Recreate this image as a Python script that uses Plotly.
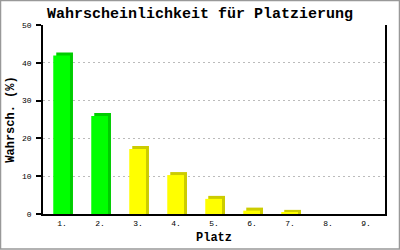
import plotly.graph_objects as go

places = ["1.", "2.", "3.", "4.", "5.", "6.", "7.", "8.", "9."]
probabilities = [41.9, 25.9, 17.2, 10.3, 4.0, 0.9, 0.3, 0.0, 0.0]
front_colors = ["#00FF00", "#00FF00", "#FFFF00", "#FFFF00", "#FFFF00", "#FFFF00", "#FFFF00", "#FFFF00", "#FFFF00"]
side_colors = ["#00CC00", "#00CC00", "#CCCC00", "#CCCC00", "#CCCC00", "#CCCC00", "#CCCC00", "#CCCC00", "#CCCC00"]
y_ticks = [0, 10, 20, 30, 40, 50]

W, H = 400, 250
ML, MR, MT, MB = 43, 15, 25, 36
plot_w = W - ML - MR
plot_h = H - MT - MB
ymax = 50
px_x = plot_w / len(places)   # pixels per category
px_y = plot_h / ymax          # pixels per unit
depth = 3                     # 3D depth in pixels
bar_w = 0.44
bar_off = -0.23

shadow_vals = [v + depth / px_y if v > 0 else 0 for v in probabilities]

fig = go.Figure()
fig.add_trace(go.Bar(
    x=places, y=shadow_vals, marker=dict(color=side_colors, line=dict(width=0)),
    width=bar_w, offset=bar_off + depth / px_x, hoverinfo="skip", showlegend=False,
))
fig.add_trace(go.Bar(
    x=places, y=probabilities, marker=dict(color=front_colors, line=dict(width=0)),
    width=bar_w, offset=bar_off, showlegend=False,
))

font = "Liberation Mono, DejaVu Sans Mono, monospace"
fig.update_layout(
    width=W, height=H, barmode="overlay",
    margin=dict(l=ML, r=MR, t=MT, b=MB, pad=0, autoexpand=False),
    paper_bgcolor="white", plot_bgcolor="white",
    font=dict(family=font, color="black", size=8),
    title=dict(text="<b>Wahrscheinlichkeit für Platzierung</b>", x=0.5, xanchor="center",
               y=1 - 13 / H, yanchor="middle", font=dict(size=15, family=font)),
    xaxis=dict(type="category", range=[-0.5, len(places) - 0.5], showgrid=False,
               showline=True, linecolor="black", linewidth=2, ticks="",
               tickfont=dict(size=8), zeroline=False, automargin=False,
               title=dict(text="<b>Platz</b>", font=dict(size=12), standoff=6)),
    yaxis=dict(range=[0, ymax], tickvals=y_ticks, showgrid=True, gridcolor="#BBBBBB",
               griddash="2px,3px", gridwidth=1, showline=True, linecolor="black", linewidth=1.5,
               mirror=True, ticks="outside", ticklen=5, tickwidth=1.5, tickcolor="black",
               tickfont=dict(size=8), zeroline=False, ticklabelstandoff=3, automargin=False,
               title=dict(text="<b>Wahrsch. (%)</b>", font=dict(size=12), standoff=5)),
    shapes=[dict(type="rect", xref="paper", yref="paper",
                 x0=-(ML - 0.5) / plot_w, x1=1 + (MR - 0.5) / plot_w,
                 y0=-(MB - 1) / plot_h, y1=1 + (MT - 0.5) / plot_h,
                 line=dict(color="#999999", width=1.5), layer="below")],
)

fig.write_html("out.html")
